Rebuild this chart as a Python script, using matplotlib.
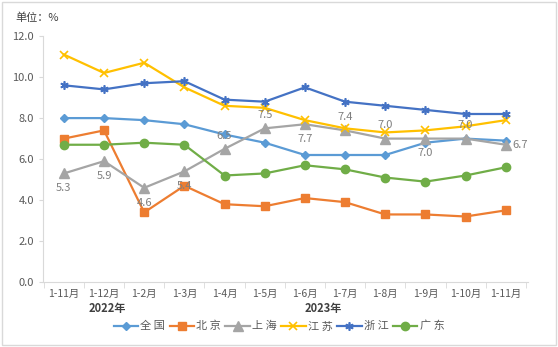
import matplotlib.pyplot as plt
from matplotlib.patches import Rectangle

plt.rcParams['font.family'] = ['Noto Sans CJK SC', 'DejaVu Sans']

# 数据
months = ["1-11月", "1-12月", "1-2月", "1-3月", "1-4月", "1-5月",
          "1-6月", "1-7月", "1-8月", "1-9月", "1-10月", "1-11月"]
quanguo = [8.0, 8.0, 7.9, 7.7, 7.2, 6.8, 6.2, 6.2, 6.2, 6.8, 7.0, 6.9]
beijing = [7.0, 7.4, 3.4, 4.7, 3.8, 3.7, 4.1, 3.9, 3.3, 3.3, 3.2, 3.5]
shanghai = [5.3, 5.9, 4.6, 5.4, 6.5, 7.5, 7.7, 7.4, 7.0, 7.0, 7.0, 6.7]
jiangsu = [11.1, 10.2, 10.7, 9.5, 8.6, 8.5, 7.9, 7.5, 7.3, 7.4, 7.6, 7.9]
zhejiang = [9.6, 9.4, 9.7, 9.8, 8.9, 8.8, 9.5, 8.8, 8.6, 8.4, 8.2, 8.2]
guangdong = [6.7, 6.7, 6.8, 6.7, 5.2, 5.3, 5.7, 5.5, 5.1, 4.9, 5.2, 5.6]

# 上海数据标签位置
lab_pos = ["b", "b", "b", "b", "t", "t", "b", "t", "t", "b", "t", "r"]

fig = plt.figure(figsize=(5.58, 3.47), dpi=100)
fig.patches.append(Rectangle((0.004, 0.006), 0.992, 0.988, transform=fig.transFigure,
                             fill=False, edgecolor="#D9D9D9", linewidth=1))
ax = fig.add_axes([0.077, 0.187, 0.869, 0.709])

x = list(range(len(months)))
lw = 1.6
ax.plot(x, quanguo, color="#5B9BD5", lw=lw, marker="D", ms=4, label="全 国")
ax.plot(x, beijing, color="#ED7D31", lw=lw, marker="s", ms=6, label="北 京")
ax.plot(x, shanghai, color="#A5A5A5", lw=lw, marker="^", ms=6.5, label="上 海")
ax.plot(x, jiangsu, color="#FFC000", lw=lw, marker="x", ms=6, mew=1.2, label="江 苏")
ax.plot(x, zhejiang, color="#4472C4", lw=lw, marker=(6, 2, 0), ms=6, mew=1.2, label="浙 江")
ax.plot(x, guangdong, color="#70AD47", lw=lw, marker="o", ms=6, label="广 东")

for i, v in enumerate(shanghai):
    p = lab_pos[i]
    if p == "b":
        off, ha, va = (0, -7), "center", "top"
    elif p == "t":
        off, ha, va = (0, 6), "center", "bottom"
    else:
        off, ha, va = (5, 0), "left", "center"
    ax.annotate("%.1f" % v, (i, v), xytext=off, textcoords="offset points",
                ha=ha, va=va, fontsize=8, color="#7F7F7F")

ax.set_xlim(-0.52, 11.55)
ax.set_ylim(0, 12)
ax.set_yticks([0, 2, 4, 6, 8, 10, 12])
ax.set_yticklabels(["%.1f" % t for t in [0, 2, 4, 6, 8, 10, 12]])
ax.set_xticks(x)
ax.set_xticklabels(months)
ax.set_xticks([i - 0.5 for i in range(13)], minor=True)
ax.tick_params(axis="x", which="major", length=0, pad=5, labelsize=7.5, labelcolor="#595959")
ax.tick_params(axis="x", which="minor", length=4, color="#D9D9D9")
ax.tick_params(axis="y", length=3, color="#D9D9D9", labelsize=8, labelcolor="#595959")
for s in ["top", "right"]:
    ax.spines[s].set_visible(False)
ax.spines["left"].set_color("#D9D9D9")
ax.spines["bottom"].set_color("#D9D9D9")

# 年份分组
ax.text(1.09, -0.08, "2022年", transform=ax.get_xaxis_transform(), ha="center", va="top",
        fontsize=8, fontweight="bold", color="#404040")
ax.text(6.45, -0.08, "2023年", transform=ax.get_xaxis_transform(), ha="center", va="top",
        fontsize=8, fontweight="bold", color="#404040")

fig.text(0.027, 0.95, "单位：%", fontsize=8, color="#404040", ha="left", va="center")

fig.legend(loc="center", bbox_to_anchor=(0.5, 0.06), ncol=6, frameon=False,
           fontsize=8, handlelength=2.2, columnspacing=0.4, handletextpad=0.2,
           labelcolor="#595959")

fig.savefig("out.png", dpi=100)
